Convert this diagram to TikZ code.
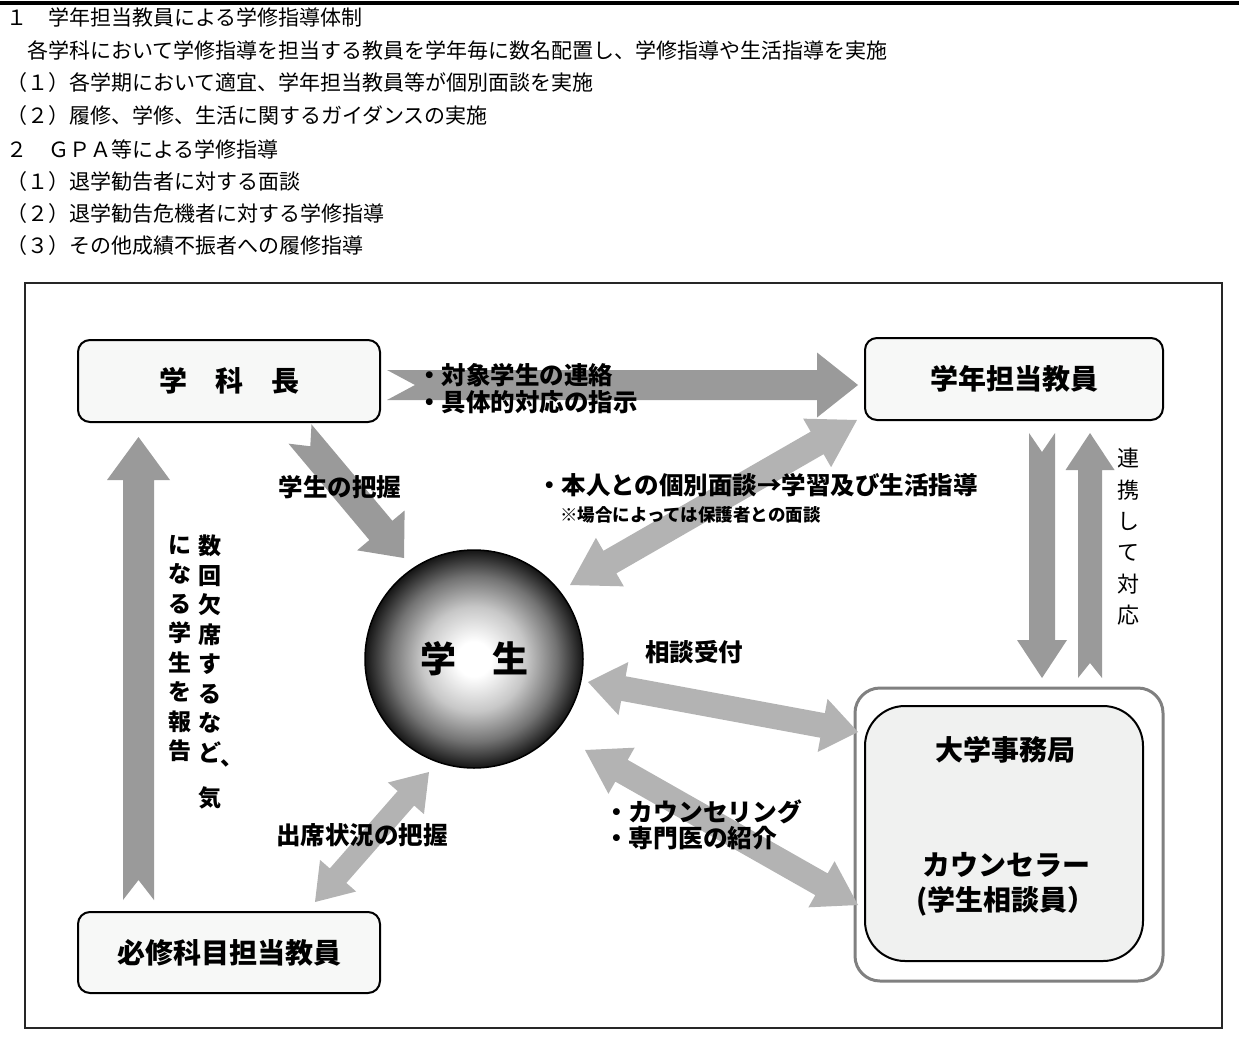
\documentclass[tikz,border=0pt]{standalone}
\usepackage{fontspec}
\setmainfont{Noto Sans CJK JP}
\usetikzlibrary{calc}

\definecolor{arrowdark}{HTML}{9A9A9A}
\definecolor{arrowlight}{HTML}{B3B3B3}
\definecolor{boxfill}{HTML}{F7F8F7}
\definecolor{innerfill}{HTML}{F0F1F0}

\pgfdeclareradialshading{studentball}{\pgfpoint{0bp}{0bp}}{color(0bp)=(white); color(4bp)=(white); color(12bp)=(black!22); color(19bp)=(black!55); color(25bp)=(black!92); color(50bp)=(black)}

% notched arrow: [colour]{tail}{tip}{shaft half width}{head half width}{head length}{notch}
\newcommand{\notcharrow}[7][]{%
  \fill[#1] let \p1=($(#3)-(#2)$), \n1={atan2(\y1,\x1)} in
    ($(#2)+(\n1+90:#4)$) -- ($(#3)+(\n1+180:#6)+(\n1+90:#4)$)
    -- ($(#3)+(\n1+180:#6)+(\n1+90:#5)$) -- (#3)
    -- ($(#3)+(\n1+180:#6)+(\n1-90:#5)$) -- ($(#3)+(\n1+180:#6)+(\n1-90:#4)$)
    -- ($(#2)+(\n1-90:#4)$) -- ($(#2)+(\n1:#7)$) -- cycle;}

% double arrow: [colour]{end a}{end b}{shaft half width}{head half width}{head length}
\newcommand{\dblarrow}[6][]{%
  \fill[#1] let \p1=($(#3)-(#2)$), \n1={atan2(\y1,\x1)} in
    (#2) -- ($(#2)+(\n1:#6)+(\n1+90:#5)$) -- ($(#2)+(\n1:#6)+(\n1+90:#4)$)
    -- ($(#3)+(\n1+180:#6)+(\n1+90:#4)$) -- ($(#3)+(\n1+180:#6)+(\n1+90:#5)$) -- (#3)
    -- ($(#3)+(\n1+180:#6)+(\n1-90:#5)$) -- ($(#3)+(\n1+180:#6)+(\n1-90:#4)$)
    -- ($(#2)+(\n1:#6)+(\n1-90:#4)$) -- ($(#2)+(\n1:#6)+(\n1-90:#5)$) -- cycle;}

\begin{document}
\begin{tikzpicture}[x=1pt, y=-1pt,
    rbox/.style={draw, line width=2pt, rounded corners=12pt, fill=boxfill,
      minimum width=302pt, minimum height=82pt, font=\fontsize{28}{32}\selectfont\bfseries},
    hdr/.style={anchor=west, inner sep=0pt, font=\fontsize{21}{24}\selectfont},
    lbl/.style={inner sep=0pt, font=\fontsize{24.5}{27}\selectfont\bfseries},
    vlbl/.style={anchor=north, inner sep=0pt, align=center, font=\fontsize{23}{29.5}\selectfont\bfseries}]

    \useasboundingbox (0,0) rectangle (1239,1052);

    % Header
    \draw[line width=3.5pt] (0,3) -- (1239,3);
    \node[hdr] (h1) at (6,17) {１　学年担当教員による学修指導体制};
    \node[hdr] (h2) at (6,50) {　各学科において学修指導を担当する教員を学年毎に数名配置し、学修指導や生活指導を実施};
    \node[hdr] (h3) at (6,83) {（１）各学期において適宜、学年担当教員等が個別面談を実施};
    \node[hdr] (h4) at (6,116) {（２）履修、学修、生活に関するガイダンスの実施};
    \node[hdr] (h5) at (6,149) {２　ＧＰＡ等による学修指導};
    \node[hdr] (h6) at (6,182) {（１）退学勧告者に対する面談};
    \node[hdr] (h7) at (6,214) {（２）退学勧告危機者に対する学修指導};
    \node[hdr] (h8) at (6,246) {（３）その他成績不振者への履修指導};

    % Frame
    \draw[line width=2.5pt, black!85] (25,283) rectangle (1222,1028);

    % Boxes
    \node[rbox] (gakkacho) at (229,381) {学　科　長};
    \node[rbox, minimum width=298pt] (gakunen) at (1014,379) {学年担当教員};
    \node[rbox, minimum height=81pt] (hisshu) at (229,952.5) {必修科目担当教員};
    \node[draw=black!50, line width=3pt, rounded corners=25pt, fill=white,
      minimum width=308pt, minimum height=293pt] (jimu) at (1009,834.5) {};
    \node[draw, line width=2pt, rounded corners=40pt, fill=innerfill,
      minimum width=278pt, minimum height=255pt] (jimuin) at (1004,833.5) {};
    \node[lbl, font=\fontsize{28}{35}\selectfont\bfseries] (jimukyoku) at (1005,750) {大学事務局};
    \node[lbl, align=center, font=\fontsize{28}{35}\selectfont\bfseries] (counselor) at (1006,884.5) {カウンセラー\\(学生相談員）};

    % Single arrows
    \coordinate (orderT) at (387,385);
    \coordinate (orderH) at (858,385);
    \notcharrow[arrowdark]{orderT}{orderH}{15pt}{32.5pt}{41pt}{28pt}
    \coordinate (graspT) at (300,434);
    \coordinate (graspH) at (404,558);
    \notcharrow[arrowdark]{graspT}{graspH}{15pt}{31pt}{36pt}{16pt}
    \coordinate (reportT) at (138.5,900);
    \coordinate (reportH) at (138.5,437);
    \notcharrow[arrowdark]{reportT}{reportH}{15.5pt}{31.5pt}{43pt}{20pt}
    \coordinate (downT) at (1042,433);
    \coordinate (downH) at (1042,678);
    \notcharrow[arrowdark]{downT}{downH}{13pt}{25pt}{38pt}{19pt}
    \coordinate (upT) at (1090,678);
    \coordinate (upH) at (1090,433);
    \notcharrow[arrowdark]{upT}{upH}{12pt}{24.5pt}{37pt}{15pt}

    % Double arrows
    \coordinate (meetA) at (570,585);
    \coordinate (meetB) at (857,420);
    \dblarrow[arrowlight]{meetA}{meetB}{13pt}{28pt}{46pt}
    \coordinate (consultA) at (588,682);
    \coordinate (consultB) at (858,732);
    \dblarrow[arrowlight]{consultA}{consultB}{12.5pt}{27pt}{36pt}
    \coordinate (counselA) at (585,750);
    \coordinate (counselB) at (858,905);
    \dblarrow[arrowlight]{counselA}{counselB}{12.5pt}{26.5pt}{42pt}
    \coordinate (attendA) at (429,772);
    \coordinate (attendB) at (315,902);
    \dblarrow[arrowlight]{attendA}{attendB}{11pt}{24pt}{35pt}

    % Labels
    \node[lbl, anchor=west, align=left] (order) at (417,388.5) {・対象学生の連絡\\・具体的対応の指示};
    \node[lbl] (grasp) at (340,487) {学生の把握};
    \node[lbl, anchor=west] (meet) at (537,485) {・本人との個別面談→学習及び生活指導};
    \node[lbl, anchor=west, font=\fontsize{17.5}{20}\selectfont\bfseries] (parent) at (560,515) {※場合によっては保護者との面談};
    \node[lbl] (consult) at (694,652) {相談受付};
    \node[lbl, anchor=west, align=left, font=\fontsize{24.75}{26}\selectfont\bfseries] (counsel) at (604,825) {・カウンセリング\\・専門医の紹介};
    \node[lbl] (attend) at (362,835) {出席状況の把握};

    % Vertical texts
    \node[vlbl] (reportR) at (210,535) {数\\回\\欠\\席\\す\\る\\な\\ど};
    \node[vlbl] (reportL) at (180,535) {に\\な\\る\\学\\生\\を\\報\\告};
    \node[lbl, font=\fontsize{23}{26}\selectfont\bfseries] (comma) at (232,763) {、};
    \node[lbl, font=\fontsize{23}{26}\selectfont\bfseries] (ki) at (210,798) {気};
    \node[vlbl, font=\fontsize{22}{31.4}\selectfont] (renkei) at (1128,448) {連\\携\\し\\て\\対\\応};

    % Student
    \node[circle, draw, line width=1.5pt, shade, shading=studentball, minimum size=218pt,
      inner sep=0pt, font=\fontsize{36}{40}\selectfont\bfseries] (student) at (474,659) {学　生};
\end{tikzpicture}
\end{document}
